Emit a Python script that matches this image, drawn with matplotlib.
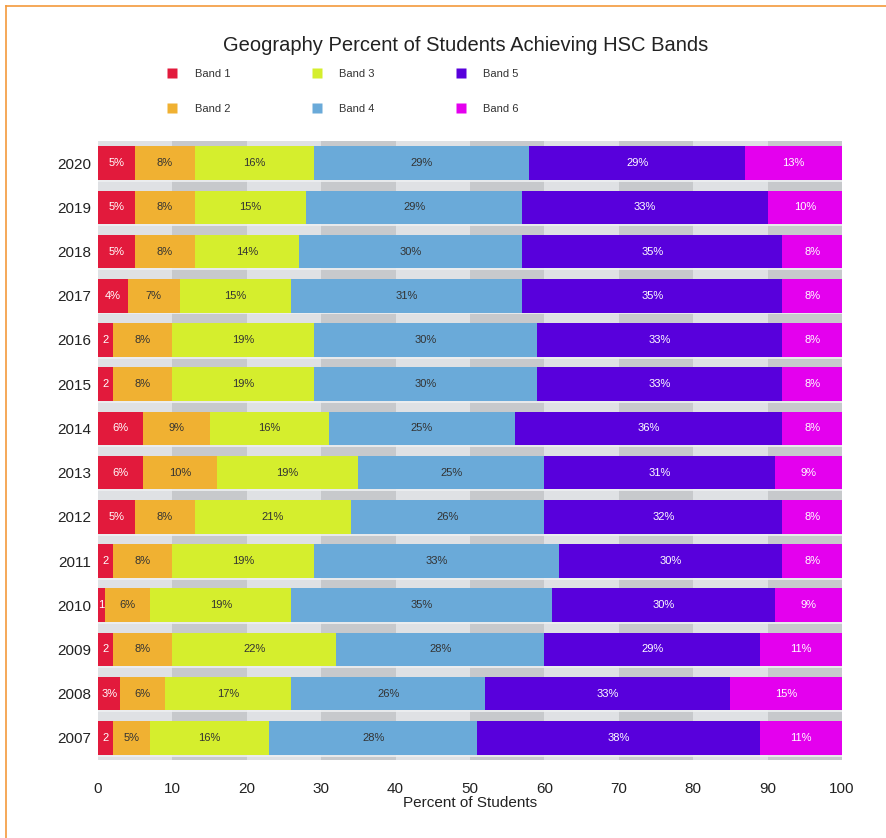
import matplotlib.pyplot as plt
from matplotlib.lines import Line2D
import numpy as np

plt.rcParams['font.family'] = ['Liberation Sans', 'DejaVu Sans']

years = ['2007', '2008', '2009', '2010', '2011', '2012', '2013',
         '2014', '2015', '2016', '2017', '2018', '2019', '2020']
bands = ['Band 1', 'Band 2', 'Band 3', 'Band 4', 'Band 5', 'Band 6']

band1 = [2, 3, 2, 1, 2, 5, 6, 6, 2, 2, 4, 5, 5, 5]
band2 = [5, 6, 8, 6, 8, 8, 10, 9, 8, 8, 7, 8, 8, 8]
band3 = [16, 17, 22, 19, 19, 21, 19, 16, 19, 19, 15, 14, 15, 16]
band4 = [28, 26, 28, 35, 33, 26, 25, 25, 30, 30, 31, 30, 29, 29]
band5 = [38, 33, 29, 30, 30, 32, 31, 36, 33, 33, 35, 35, 33, 29]
band6 = [11, 15, 11, 9, 8, 8, 9, 8, 8, 8, 8, 8, 10, 13]

colors = ['#e21a3c', '#f0b132', '#d5ee2d', '#6aaad9', '#5800dc', '#e400ee']
text_colors = ['white', '#333333', '#333333', '#333333', 'white', 'white']

fig = plt.figure(figsize=(8.86, 8.38), dpi=100)
ax = fig.add_axes([0.1106, 0.0931, 0.8397, 0.7386])

y = np.arange(len(years))

# striped grey background behind every row
for k in range(10):
    c = '#dfe1e4' if k % 2 == 0 else '#c7c9cc'
    ax.barh(y, 10, left=k * 10, height=1.0, color=c, edgecolor='none', zorder=1)
ax.hlines(y - 0.40, 0, 100, color='#eef0f2', linewidth=1.2, zorder=1.5)

data = [band1, band2, band3, band4, band5, band6]
left = np.zeros(len(years))
for i, vals in enumerate(data):
    vals = np.array(vals)
    ax.barh(y, vals, left=left, height=0.76, color=colors[i], zorder=2)
    for j, v in enumerate(vals):
        lab = f'{v}%' if v > 2 else f'{v}'
        ax.text(left[j] + v / 2, y[j], lab, ha='center', va='center',
                fontsize=8, color=text_colors[i], zorder=3)
    left += vals

ax.set_xlim(0, 100)
ax.set_ylim(-0.5, len(years) - 0.5)
ax.set_yticks(y)
ax.set_yticklabels(years, fontsize=11, color='#222222')
ax.set_xticks(range(0, 101, 10))
ax.tick_params(axis='x', labelsize=11, length=0, pad=16, colors='#222222')
ax.tick_params(axis='y', length=0, pad=5)
for s in ax.spines.values():
    s.set_visible(False)
ax.set_xlabel('Percent of Students', fontsize=11, labelpad=0, color='#222222')

fig.text(0.526, 0.946, 'Geography Percent of Students Achieving HSC Bands',
         ha='center', va='center', fontsize=14.5, color='#222222')

handles = [Line2D([], [], marker='s', linestyle='none', markersize=7,
                  markerfacecolor=c, markeredgecolor='none') for c in colors]
fig.legend(handles, bands, ncol=3, loc='upper left', bbox_to_anchor=(0.177, 0.930),
           frameon=False, fontsize=8, handlelength=1, handletextpad=1.5,
           columnspacing=7.3, labelspacing=2.3, labelcolor='#333333')

# orange border on top and left
fig.add_artist(Line2D([0.007, 1.0], [0.993, 0.993], color='#f39a3c', linewidth=1.2))
fig.add_artist(Line2D([0.007, 0.007], [0.0, 0.993], color='#f39a3c', linewidth=1.2))

fig.savefig('out.png', dpi=100)
